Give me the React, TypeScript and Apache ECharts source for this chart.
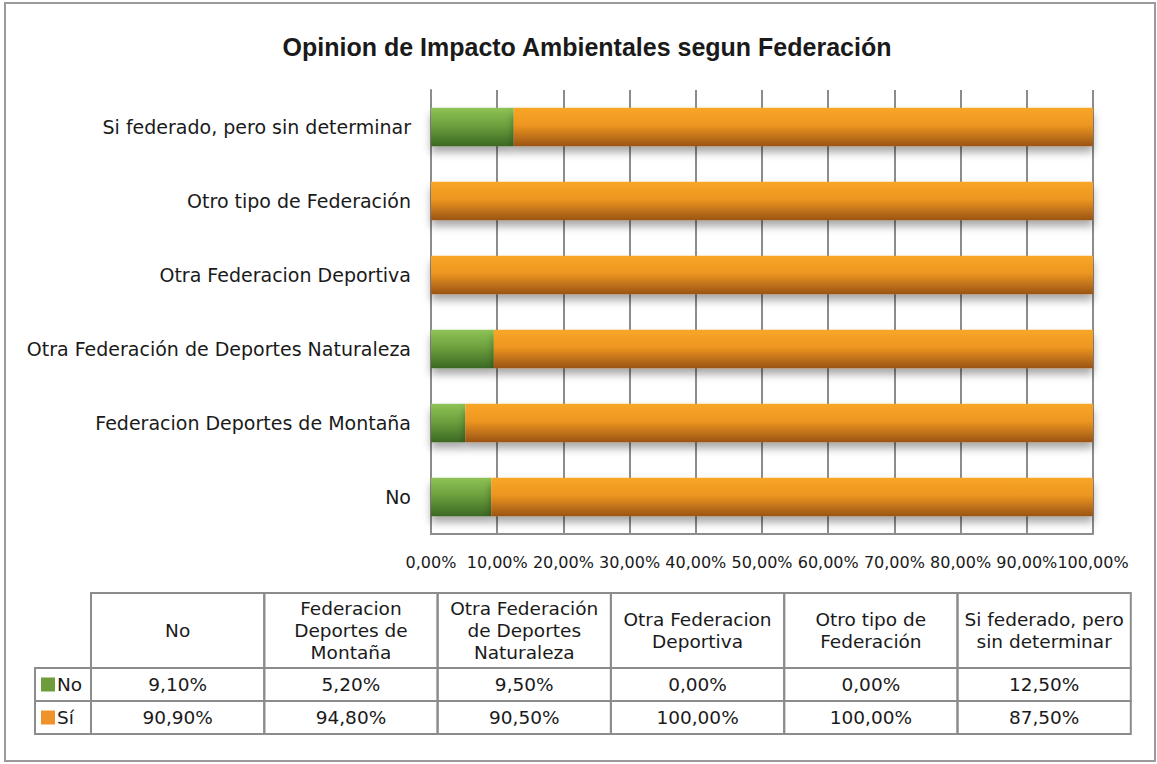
import React, { useEffect, useRef } from "react";
import * as echarts from "echarts";

const chartTitle = "Opinion de Impacto Ambientales segun Federación";
const categories = [
  "No",
  "Federacion Deportes de Montaña",
  "Otra Federación de Deportes Naturaleza",
  "Otra Federacion Deportiva",
  "Otro tipo de Federación",
  "Si federado, pero sin determinar",
];
const tableHeaders = [
  "No",
  "Federacion\nDeportes de\nMontaña",
  "Otra Federación\nde Deportes\nNaturaleza",
  "Otra Federacion\nDeportiva",
  "Otro tipo de\nFederación",
  "Si federado, pero\nsin determinar",
];
const seriesNames = ["No", "Sí"];
const noValues = [9.1, 5.2, 9.5, 0, 0, 12.5];
const siValues = [90.9, 94.8, 90.5, 100, 100, 87.5];
const xMin = 0;
const xMax = 100;
const xInterval = 10;

const fmt = (v: number) => v.toFixed(2).replace(".", ",") + "%";

const FONT = "'DejaVu Sans', Verdana, sans-serif";
const GRID = "#8c8c8c";

export default function App() {
  const ref = useRef<HTMLDivElement>(null);
  useEffect(() => {
    if (!ref.current) return;
    const chart = echarts.init(ref.current, null, { renderer: "svg" });

    const orange = new echarts.graphic.LinearGradient(0, 0, 0, 1, [
      { offset: 0, color: "#F8A628" },
      { offset: 0.45, color: "#EE9620" },
      { offset: 1, color: "#9A5416" },
    ]);
    const green = new echarts.graphic.LinearGradient(0, 0, 0, 1, [
      { offset: 0, color: "#8EC356" },
      { offset: 0.45, color: "#6EA13E" },
      { offset: 1, color: "#3B6923" },
    ]);
    const legendColors = ["#6E9B3C", "#F0922A"];
    const rowsData = [noValues, siValues];

    const tLeft = 91;
    const colW = 173.3;
    const legLeft = 35;
    const yTop = 593;
    const yHead = 668;
    const yRow1 = 701;
    const yBot = 734;
    const rowTops = [yHead, yRow1];
    const rowBots = [yRow1, yBot];

    const graphics: any[] = [];
    graphics.push({
      type: "rect",
      shape: { x: 5, y: 3, width: 1150, height: 758 },
      style: { fill: "none", stroke: "#9a9a9a", lineWidth: 2 },
      silent: true,
    });
    tableHeaders.forEach((h, i) => {
      const x = tLeft + colW * i;
      graphics.push({
        type: "rect",
        shape: { x, y: yTop, width: colW, height: yHead - yTop },
        style: { fill: "none", stroke: GRID, lineWidth: 2 },
        silent: true,
      });
      graphics.push({
        type: "text",
        x: x + colW / 2,
        y: (yTop + yHead) / 2,
        style: {
          text: h,
          align: "center",
          verticalAlign: "middle",
          fontSize: 18.5,
          lineHeight: 22,
          fontFamily: FONT,
          fill: "#1a1a1a",
        },
        silent: true,
      });
    });
    rowsData.forEach((vals, r) => {
      const y0 = rowTops[r];
      const y1 = rowBots[r];
      graphics.push({
        type: "rect",
        shape: { x: legLeft, y: y0, width: tLeft - legLeft, height: y1 - y0 },
        style: { fill: "none", stroke: GRID, lineWidth: 2 },
        silent: true,
      });
      graphics.push({
        type: "rect",
        shape: { x: legLeft + 6, y: (y0 + y1) / 2 - 7, width: 14, height: 14 },
        style: { fill: legendColors[r] },
        silent: true,
      });
      graphics.push({
        type: "text",
        x: legLeft + 22,
        y: (y0 + y1) / 2,
        style: {
          text: seriesNames[r],
          align: "left",
          verticalAlign: "middle",
          fontSize: 18.5,
          fontFamily: FONT,
          fill: "#1a1a1a",
        },
        silent: true,
      });
      vals.forEach((v, i) => {
        const x = tLeft + colW * i;
        graphics.push({
          type: "rect",
          shape: { x, y: y0, width: colW, height: y1 - y0 },
          style: { fill: "none", stroke: GRID, lineWidth: 2 },
          silent: true,
        });
        graphics.push({
          type: "text",
          x: x + colW / 2,
          y: (y0 + y1) / 2,
          style: {
            text: fmt(v),
            align: "center",
            verticalAlign: "middle",
            fontSize: 18.5,
            fontFamily: FONT,
            fill: "#1a1a1a",
          },
          silent: true,
        });
      });
    });

    const shadow = {
      shadowColor: "rgba(0,0,0,0.35)",
      shadowBlur: 8,
      shadowOffsetY: 6,
    };

    chart.setOption({
      animation: false,
      backgroundColor: "#ffffff",
      title: {
        text: chartTitle,
        left: 582,
        top: 29,
        textAlign: "center",
        textStyle: {
          fontFamily: "'Liberation Sans', Arial, sans-serif",
          fontWeight: "bold",
          fontSize: 25,
          color: "#1a1a1a",
        },
      },
      grid: { left: 431, right: 64, top: 90, bottom: 230, containLabel: false },
      xAxis: {
        type: "value",
        min: xMin,
        max: xMax,
        interval: xInterval,
        axisLine: { show: true, lineStyle: { color: GRID, width: 2 } },
        axisTick: { show: false },
        splitLine: { show: true, lineStyle: { color: GRID, width: 2 } },
        axisLabel: {
          formatter: (v: number) => fmt(v),
          fontFamily: FONT,
          fontSize: 16,
          color: "#1a1a1a",
          margin: 20,
          showMinLabel: true,
          showMaxLabel: true,
          hideOverlap: false,
          interval: 0,
        },
      },
      yAxis: {
        type: "category",
        data: categories,
        axisLine: { show: true, lineStyle: { color: GRID, width: 2 } },
        axisTick: { show: false },
        splitLine: { show: false },
        axisLabel: {
          fontFamily: FONT,
          fontSize: 19,
          color: "#1a1a1a",
          margin: 20,
        },
      },
      series: [
        {
          name: seriesNames[0],
          type: "bar",
          stack: "total",
          barWidth: "52%",
          data: noValues,
          itemStyle: { color: green, ...shadow },
        },
        {
          name: seriesNames[1],
          type: "bar",
          stack: "total",
          barWidth: "52%",
          data: siValues,
          itemStyle: { color: orange, ...shadow },
        },
      ],
      graphic: graphics,
    });
    return () => chart.dispose();
  }, []);
  return (
    <div
      ref={ref}
      style={{ position: "absolute", left: 0, top: 0, width: 1157, height: 764, background: "#fff" }}
    />
  );
}
